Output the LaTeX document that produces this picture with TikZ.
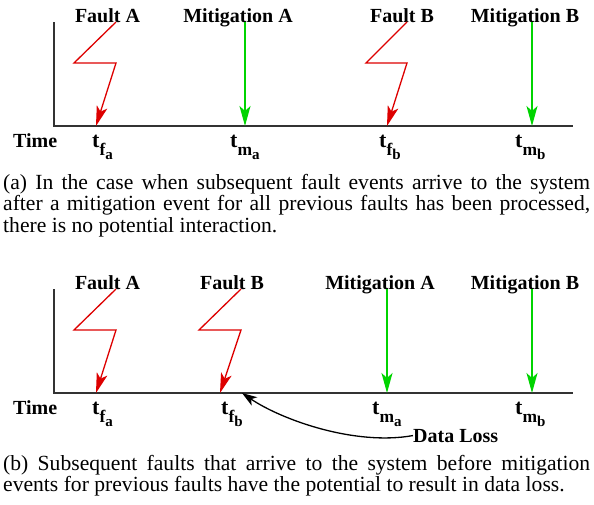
\documentclass[tikz,border=0pt]{standalone}
\usepackage{fontspec}
\setmainfont{Liberation Serif}
\usetikzlibrary{arrows.meta}

\definecolor{faultred}{RGB}{221,0,0}
\definecolor{mitgreen}{RGB}{0,212,0}
\definecolor{axisgray}{RGB}{50,50,50}

% time label t with a two-level subscript
\newcommand{\tmark}[2]{{\fontsize{22}{22}\selectfont t}\raisebox{-8.5pt}{\fontsize{17.5}{17.5}\selectfont #1\raisebox{-3.5pt}{\fontsize{15}{15}\selectfont #2}}}

\tikzset{
  axisline/.style={draw=axisgray, line width=1.6pt},
  faultarrow/.style={draw=faultred, line width=1.3pt,
    -{Stealth[length=20pt, width=11pt, inset=5pt]}},
  mitarrow/.style={draw=mitgreen, line width=1.3pt,
    -{Stealth[length=20pt, width=11pt, inset=5pt]}},
  lossarrow/.style={draw=black, line width=1.3pt,
    -{Stealth[length=15pt, width=10pt, inset=4pt]}},
  lbl/.style={inner sep=0pt, font=\fontsize{20}{20}\selectfont\bfseries},
  captext/.style={inner sep=0pt, text width=587pt, align=justify,
    font=\fontsize{21.6}{21.6}\selectfont}
}

\begin{document}
\begin{tikzpicture}[x=1pt, y=-1pt]
\useasboundingbox (0,0) rectangle (594,504);

%% ---------------- panel (a) ----------------
\coordinate (a0) at (54,126);
\coordinate (atop) at (54,22);
\coordinate (aend) at (573,126);
\draw[axisline] (atop) -- (a0) -- (aend);

\coordinate (afa) at (96,126);
\coordinate (ama) at (245,126);
\coordinate (afb) at (387,126);
\coordinate (amb) at (532,126);

\node[lbl, anchor=base] (aFA) at (107.5,22) {Fault A};
\node[lbl, anchor=base] (aMA) at (238,22) {Mitigation A};
\node[lbl, anchor=base] (aFB) at (402,22) {Fault B};
\node[lbl, anchor=base] (aMB) at (525,22) {Mitigation B};

\coordinate (afa1) at (116,22);
\coordinate (afa2) at (74,63);
\coordinate (afa3) at (116,63);
\draw[faultarrow] (afa1) -- (afa2) -- (afa3) -- (afa);

\coordinate (afb1) at (407,22);
\coordinate (afb2) at (366,63);
\coordinate (afb3) at (407,63);
\draw[faultarrow] (afb1) -- (afb2) -- (afb3) -- (afb);

\draw[mitarrow] (245,22) -- (ama);
\draw[mitarrow] (532,22) -- (amb);

\node[lbl, anchor=base west] (aT) at (13,147) {Time};
\node[lbl, anchor=base west] (atfa) at (92,147) {\tmark{f}{a}};
\node[lbl, anchor=base west] (atma) at (230,147) {\tmark{m}{a}};
\node[lbl, anchor=base west] (atfb) at (379,147) {\tmark{f}{b}};
\node[lbl, anchor=base west] (atmb) at (515,147) {\tmark{m}{b}};

\node[captext, anchor=base west] (capa) at (3,189) {(a) In the case when subsequent fault events arrive to the system\linebreak
after a mitigation event for all previous faults has been processed,\linebreak
there is no potential interaction.};

%% ---------------- panel (b) ----------------
\coordinate (b0) at (54,393);
\coordinate (btop) at (54,289);
\coordinate (bend) at (573,393);
\draw[axisline] (btop) -- (b0) -- (bend);

\coordinate (bfa) at (96,393);
\coordinate (bfb) at (220,393);
\coordinate (bma) at (387,393);
\coordinate (bmb) at (532,393);

\node[lbl, anchor=base] (bFA) at (107.5,289) {Fault A};
\node[lbl, anchor=base] (bFB) at (232,289) {Fault B};
\node[lbl, anchor=base] (bMA) at (380,289) {Mitigation A};
\node[lbl, anchor=base] (bMB) at (525,289) {Mitigation B};

\coordinate (bfa1) at (116,289);
\coordinate (bfa2) at (74,330);
\coordinate (bfa3) at (116,330);
\draw[faultarrow] (bfa1) -- (bfa2) -- (bfa3) -- (bfa);

\coordinate (bfb1) at (241,289);
\coordinate (bfb2) at (199,330);
\coordinate (bfb3) at (241,330);
\draw[faultarrow] (bfb1) -- (bfb2) -- (bfb3) -- (bfb);

\draw[mitarrow] (387,289) -- (bma);
\draw[mitarrow] (532,289) -- (bmb);

\node[lbl, anchor=base west] (bT) at (13,414) {Time};
\node[lbl, anchor=base west] (btfa) at (92,414) {\tmark{f}{a}};
\node[lbl, anchor=base west] (btfb) at (221,414) {\tmark{f}{b}};
\node[lbl, anchor=base west] (btma) at (372,414) {\tmark{m}{a}};
\node[lbl, anchor=base west] (btmb) at (515,414) {\tmark{m}{b}};

% data loss pointer onto the axis just after the second fault
\node[lbl, anchor=base west] (loss) at (413,442) {Data Loss};
\coordinate (losstip) at (242,393);
\draw[lossarrow] (loss.west) .. controls (355,446) and (282,420) .. (losstip);

\node[captext, anchor=base west] (capb) at (3,470) {(b) Subsequent faults that arrive to the system before mitigation\linebreak
events for previous faults have the potential to result in data loss.};
\end{tikzpicture}
\end{document}
